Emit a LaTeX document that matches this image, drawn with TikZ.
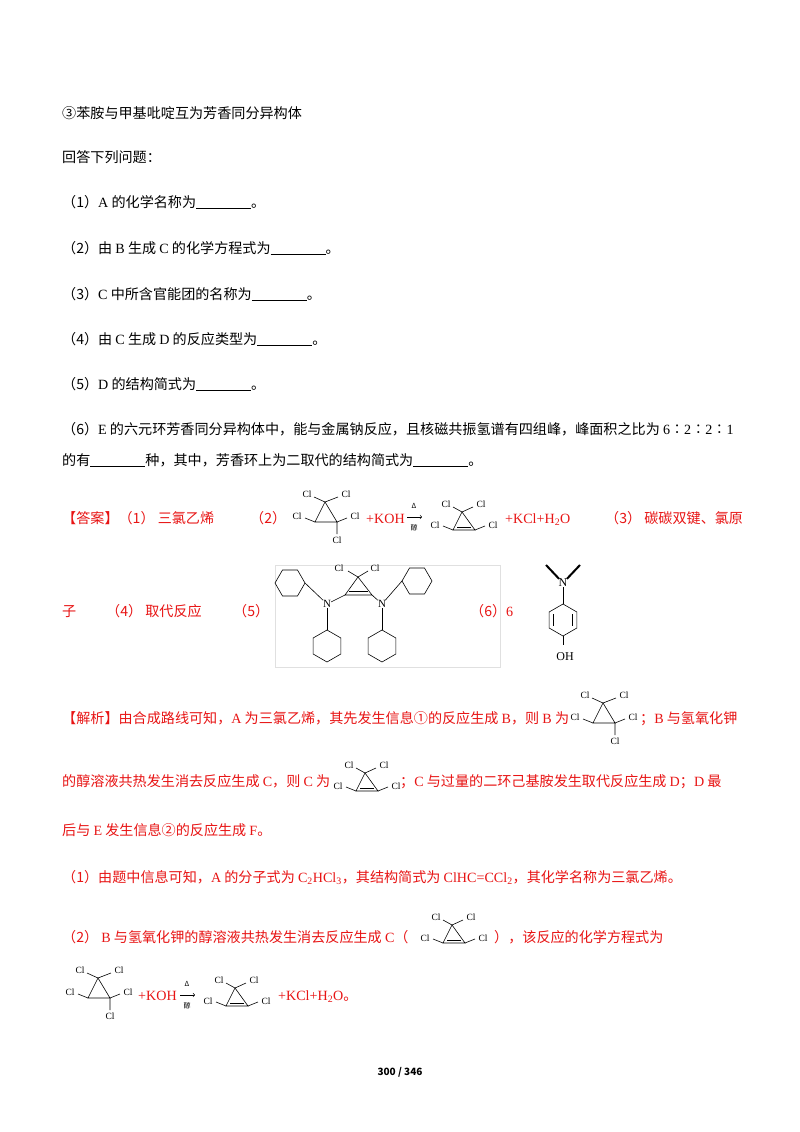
\documentclass[tikz,border=0pt]{standalone}
\usepackage{fontspec}
\setmainfont{Noto Sans CJK SC}
\newfontfamily\tm{Liberation Serif}
\definecolor{ansred}{RGB}{232,20,20}
\newcommand{\blk}{\rule[-1.5pt]{55pt}{0.6pt}}
\tikzset{
 txt/.style={anchor=base west,inner sep=0pt,font=\fontsize{14.1}{16}\selectfont},
 rtxt/.style={txt,text=ansred},
 cl/.style={inner sep=0pt,font=\tm\fontsize{9.5}{10}\selectfont},
 bd/.style={line width=0.6pt},
 molB/.pic={
  \draw[bd] (0,0)--(-10,20)--(12,20)--cycle;
  \draw[bd] (0,0)--(-11,-5) (0,0)--(13,-5) (-10,20)--(-20,16) (12,20)--(22,16) (12,20)--(12,32);
  \node[cl] at (-18,-8){Cl}; \node[cl] at (21,-8){Cl};
  \node[cl] at (-28,14){Cl}; \node[cl] at (30,14){Cl}; \node[cl] at (12,38){Cl};
 },
 molC/.pic={
  \draw[bd] (0,0)--(-9,18)--(13,18)--cycle;
  \draw[bd] (-5,15)--(9,15);
  \draw[bd] (0,0)--(-9,-5) (0,0)--(11,-5) (-9,18)--(-19,14) (13,18)--(23,14);
  \node[cl] at (-16,-8){Cl}; \node[cl] at (19,-8){Cl};
  \node[cl] at (-27,13){Cl}; \node[cl] at (31,13){Cl};
 },
 hexa/.pic={\draw[bd] (0:15)--(60:15)--(120:15)--(180:15)--(240:15)--(300:15)--cycle;},
 hexv/.pic={\draw[bd] (30:16)--(90:16)--(150:16)--(210:16)--(270:16)--(330:16)--cycle;},
 arr/.pic={
  \draw[bd,->] (0,0)--(15,0);
  \node[cl,font=\fontsize{7}{8}\selectfont] at (7,-11){Δ};
  \node[cl,font=\fontsize{7}{8}\selectfont] at (7,11){醇};
 }
}
\begin{document}
\begin{tikzpicture}[x=1pt,y=-1pt]
\useasboundingbox[fill=white] (0,0) rectangle (800,1132);
\node[txt] (l1) at (62,118) {③苯胺与甲基吡啶互为芳香同分异构体};
\node[txt] (l2) at (62,162) {回答下列问题：};
\node[txt] (l3) at (62,207) {（1）{\tm A} 的化学名称为\blk。};
\node[txt] (l4) at (62,253) {（2）由 {\tm B} 生成 {\tm C} 的化学方程式为\blk。};
\node[txt] (l5) at (62,299) {（3）{\tm C} 中所含官能团的名称为\blk。};
\node[txt] (l6) at (62,344) {（4）由 {\tm C} 生成 {\tm D} 的反应类型为\blk。};
\node[txt] (l7) at (62,389) {（5）{\tm D} 的结构简式为\blk。};
\node[txt] (l8) at (62,434) {（6）{\tm E} 的六元环芳香同分异构体中，能与金属钠反应，且核磁共振氢谱有四组峰，峰面积之比为 {\tm 6}∶{\tm 2}∶{\tm 2}∶{\tm 1}};
\node[txt] (l9) at (62,465) {的有\blk 种，其中，芳香环上为二取代的结构简式为\blk。};
% answer
\node[rtxt] (a1) at (62,523) {【答案】（1） 三氯乙烯};
\node[rtxt] (a2) at (250,523) {（2）};
\pic at (325,502) {molB};
\node[rtxt] (a3) at (366,523) {\tm +KOH};
\pic at (407,517) {arr};
\pic at (462,512) {molC};
\node[rtxt] (a4) at (505,523) {\tm +KCl+H\textsubscript{2}O};
\node[rtxt] (a5) at (605,523) {（3） 碳碳双键、氯原};
\node[rtxt] (a6) at (62,616) {子};
\node[rtxt] (a6b) at (106,616) {（4） 取代反应};
\node[rtxt] (a6c) at (233,616) {（5）};
\node[rtxt] (a7) at (470,616) {（6）{\tm 6}};
% D structure
\draw[black!12] (275,565) rectangle (500,667);
\draw[bd] (358,577)--(345,595)--(372,595)--cycle;
\draw[bd] (349,591)--(368,591);
\draw[bd] (358,577)--(348,571) (358,577)--(368,571);
\node[cl] at (339,568){Cl}; \node[cl] at (375,568){Cl};
\node[cl,font=\tm\fontsize{11}{12}\selectfont] (nl) at (327,604){N};
\node[cl,font=\tm\fontsize{11}{12}\selectfont] (nr) at (382,604){N};
\draw[bd] (345,595)--(nl) (372,595)--(nr);
\pic at (290,583) {hexa}; \pic at (417,581) {hexa};
\pic at (327,646) {hexv}; \pic at (382,646) {hexv};
\draw[bd] (nl)--(305,583) (nr)--(402,581);
\draw[bd] (nl)--(327,630) (nr)--(382,630);
% phenol
\node[cl,font=\tm\fontsize{12}{13}\selectfont] (np) at (563,583){N};
\draw[line width=2pt] (np)--(546,565) (np)--(580,565);
\pic at (563,620) {hexv};
\draw[bd] (np)--(563,604);
\draw[bd] (553.5,614)--(553.5,626) (572.5,614)--(572.5,626);
\draw[bd] (563,636)--(563,645);
\node[cl,font=\tm\fontsize{12}{13}\selectfont] at (565,657){OH};
% analysis
\node[rtxt] (b1) at (62,723) {【解析】由合成路线可知，{\tm A} 为三氯乙烯，其先发生信息①的反应生成 {\tm B}，则 {\tm B} 为};
\pic at (603,703) {molB};
\node[rtxt] (b2) at (640,723) {；{\tm B} 与氢氧化钾};
\node[rtxt] (b3) at (62,786) {的醇溶液共热发生消去反应生成 {\tm C}，则 {\tm C} 为};
\pic at (365,773) {molC};
\node[rtxt] (b4) at (400,786) {；{\tm C} 与过量的二环己基胺发生取代反应生成 {\tm D}；{\tm D} 最};
\node[rtxt] (b5) at (62,835) {后与 {\tm E} 发生信息②的反应生成 {\tm F}。};
\node[rtxt] (b6) at (62,882) {（1）由题中信息可知，{\tm A} 的分子式为 {\tm C\textsubscript{2}HCl\textsubscript{3}}，其结构简式为 {\tm ClHC=CCl\textsubscript{2}}，其化学名称为三氯乙烯。};
\node[rtxt] (b7) at (62,942) {（2） {\tm B} 与氢氧化钾的醇溶液共热发生消去反应生成 {\tm C}（};
\pic at (452,925) {molC};
\node[rtxt] (b8) at (494,942) {），该反应的化学方程式为};
\pic at (98,978) {molB};
\node[rtxt] (b9) at (138,1000) {\tm +KOH};
\pic at (180,995) {arr};
\pic at (235,988) {molC};
\node[rtxt] (b10) at (278,1000) {{\tm +KCl+H\textsubscript{2}O}。};
\node[anchor=base,inner sep=0pt,font=\bfseries\fontsize{10}{12}\selectfont] (pg) at (400,1075) {300 / 346};
\end{tikzpicture}
\end{document}
